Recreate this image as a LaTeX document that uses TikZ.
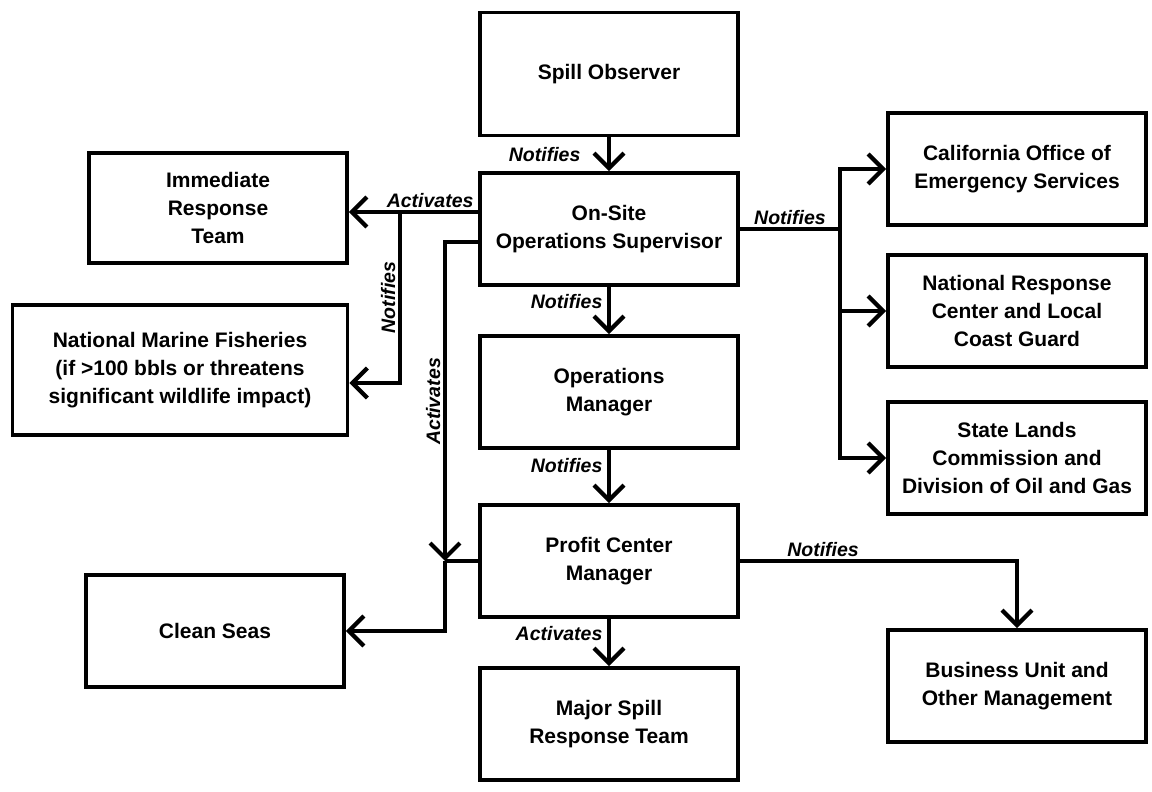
\documentclass[tikz,border=0pt]{standalone}
\usepackage{fontspec}
\setmainfont{Liberation Sans}
\usetikzlibrary{arrows.meta}
\newcommand{\boxW}{258pt}
\newcommand{\boxH}{112pt}
\newcommand{\lineW}{3.2pt}
\newcommand{\colM}{609}
\newcommand{\colR}{1017}

\begin{document}
\begin{tikzpicture}[x=1pt, y=1pt,
	box/.style={draw, line width=3.8pt, minimum width=\boxW, minimum height=\boxH, align=center, inner sep=2pt, font=\bfseries\fontsize{21}{28}\selectfont},
	lbl/.style={font=\bfseries\itshape\fontsize{19.5}{21}\selectfont, inner sep=5pt},
	link/.style={line width=\lineW},
	arr/.style={link, -{Straight Barb[length=15pt, width=30pt, line width=4.2pt]}}]
	\useasboundingbox (0,0) rectangle (1152,792);
	% middle column
	\node[box, minimum height=123pt] (obs) at (\colM,718) {Spill Observer};
	\node[box] (ons) at (\colM,563) {On-Site\\Operations Supervisor};
	\node[box] (opm) at (\colM,400) {Operations\\Manager};
	\node[box] (pcm) at (\colM,231) {Profit Center\\Manager};
	\node[box] (msr) at (\colM,68) {Major Spill\\Response Team};
	% left column
	\node[box, minimum height=110pt] (irt) at (218,584) {Immediate\\Response\\Team};
	\node[box, minimum width=335pt, minimum height=130pt] (nmf) at (180,422) {National Marine Fisheries\\(if >100 bbls or threatens\\significant wildlife impact)};
	\node[box] (cls) at (215,161) {Clean Seas};
	% right column
	\node[box] (cal) at (\colR,623) {California Office of\\Emergency Services};
	\node[box] (nrc) at (\colR,481) {National Response\\Center and Local\\Coast Guard};
	\node[box] (slc) at (\colR,334) {State Lands\\Commission and\\Division of Oil and Gas};
	\node[box] (bus) at (\colR,106) {Business Unit and\\Other Management};

	\coordinate (onsA) at ([yshift=17pt]ons.west);
	\coordinate (onsB) at ([yshift=-13pt]ons.west);
	\coordinate (jL) at (400,580);
	\coordinate (jP) at (445,231);
	\coordinate (jR) at (840,563);

	\draw[arr] (obs) -- node[lbl, left, pos=0.5, xshift=-22pt] {Notifies} (ons);
	\draw[arr] (ons) -- node[lbl, left, pos=0.3] {Notifies} (opm);
	\draw[arr] (opm) -- node[lbl, left, pos=0.3] {Notifies} (pcm);
	\draw[arr] (pcm) -- node[lbl, left, pos=0.3] {Activates} (msr);

	\draw[arr] (onsA) -- node[lbl, pos=0, anchor=south east, inner sep=3pt] {Activates} (onsA -| irt.east);
	\draw[arr] (jL) |- node[lbl, rotate=90, pos=0.25, anchor=south, inner sep=3pt] {Notifies} ([yshift=-13pt]nmf.east);
	\draw[arr] (onsB) -| node[lbl, rotate=90, pos=0.75, anchor=south, inner sep=3pt] {Activates} (jP);
	\draw[link] (pcm.west) -- (jP);
	\draw[arr] (jP) |- (cls.east);

	\draw[link] (ons.east) -- node[lbl, above, inner sep=3pt] {Notifies} (jR);
	\foreach \n in {cal, nrc, slc}
		\draw[arr] (jR) |- (\n.west);
	\draw[arr] (pcm.east) -| node[lbl, above, pos=0.15, inner sep=3pt] {Notifies} (bus.north);
\end{tikzpicture}
\end{document}
